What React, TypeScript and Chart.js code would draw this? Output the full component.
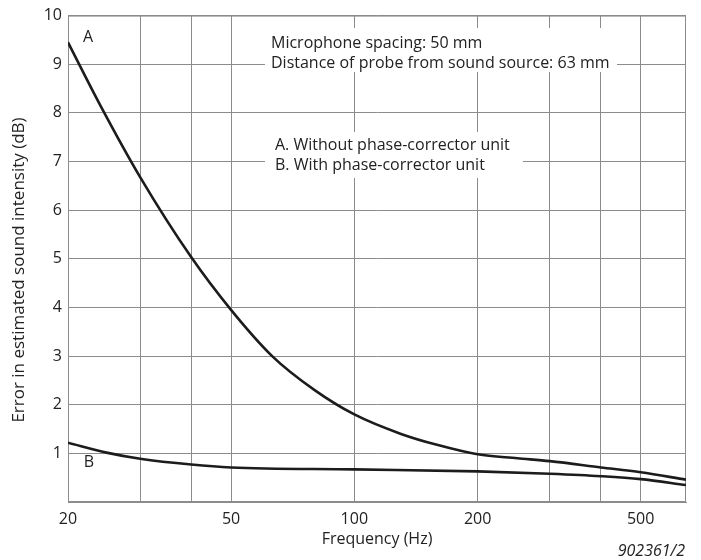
import React, { useEffect, useRef } from "react";
import { Chart, registerables } from "chart.js";

Chart.register(...registerables);

const freqA = [20, 24, 30, 40, 50, 63, 80, 100, 130, 160, 200, 250, 300, 400, 500, 645];
const errorA = [9.45, 8.15, 6.68, 5.03, 3.95, 3.0, 2.3, 1.8, 1.4, 1.17, 0.98, 0.9, 0.84, 0.71, 0.61, 0.46];

const freqB = [20, 25, 30, 40, 50, 100, 200, 300, 400, 500, 645];
const errorB = [1.22, 1.01, 0.89, 0.77, 0.71, 0.67, 0.63, 0.58, 0.53, 0.47, 0.35];

const xGridTicks = [20, 30, 40, 50, 100, 200, 300, 400, 500];
const xLabelTicks = [20, 50, 100, 200, 500];
const yTicks = [0, 1, 2, 3, 4, 5, 6, 7, 8, 9, 10];

const noteLines1 = ["Microphone spacing: 50 mm", "Distance of probe from sound source: 63 mm"];
const noteLines2 = ["A. Without phase-corrector unit", "B. With phase-corrector unit"];
const yTitle = "Error in estimated sound intensity (dB)";
const xTitle = "Frequency (Hz)";
const figureId = "902361/2";

const FONT = "'Open Sans', 'Noto Sans', sans-serif";
const GRID = "#8c8c8c";
const INK = "#1c1c1c";
const TEXT = "#222222";

const overlay = {
  id: "overlay",
  beforeDatasetsDraw(chart: any) {
    const { ctx, chartArea: a } = chart;
    ctx.save();
    ctx.strokeStyle = GRID;
    ctx.lineWidth = 1;
    ctx.strokeRect(a.left + 0.5, a.top + 0.5, a.right - a.left - 1, a.bottom - a.top - 1);

    // white boxes behind notes
    ctx.fillStyle = "#ffffff";
    ctx.fillRect(a.left + 197, 28, 352, 44);
    ctx.fillRect(a.left + 197, 132, 258, 46);

    ctx.fillStyle = TEXT;
    ctx.font = `16px ${FONT}`;
    ctx.textAlign = "left";
    ctx.textBaseline = "middle";
    ctx.fillText(noteLines1[0], a.left + 203, 43);
    ctx.fillText(noteLines1[1], a.left + 203, 63);
    ctx.fillText(noteLines2[0], a.left + 207, 145);
    ctx.fillText(noteLines2[1], a.left + 207, 165);

    ctx.textAlign = "center";
    ctx.fillText("A", a.left + 20, 37);
    ctx.fillText("B", a.left + 21, 462);
    ctx.restore();
  },
  afterDraw(chart: any) {
    const { ctx, chartArea: a } = chart;
    ctx.save();
    ctx.fillStyle = TEXT;
    ctx.font = `italic 16px ${FONT}`;
    ctx.textAlign = "right";
    ctx.textBaseline = "middle";
    ctx.fillText(figureId, a.right - 1, 551);

    ctx.font = `17px ${FONT}`;
    ctx.textAlign = "center";
    ctx.translate(19, 270);
    ctx.rotate(-Math.PI / 2);
    ctx.fillText(yTitle, 0, 0);
    ctx.restore();
  },
};

export default function App() {
  const ref = useRef<HTMLCanvasElement | null>(null);

  useEffect(() => {
    if (!ref.current) return;
    const chart = new Chart(ref.current, {
      type: "line",
      data: {
        datasets: [
          {
            label: "A",
            data: freqA.map((f, i) => ({ x: f, y: errorA[i] })),
            borderColor: INK,
            borderWidth: 2.6,
            pointRadius: 0,
            cubicInterpolationMode: "monotone",
            fill: false,
          },
          {
            label: "B",
            data: freqB.map((f, i) => ({ x: f, y: errorB[i] })),
            borderColor: INK,
            borderWidth: 2.6,
            pointRadius: 0,
            cubicInterpolationMode: "monotone",
            fill: false,
          },
        ],
      },
      options: {
        responsive: false,
        animation: false,
        layout: { padding: { top: 15, right: 15, left: 0, bottom: 0 } },
        plugins: { legend: { display: false }, tooltip: { enabled: false } },
        scales: {
          x: {
            type: "logarithmic",
            min: 20,
            max: 645,
            afterBuildTicks: (scale: any) => {
              scale.ticks = xGridTicks.map((v) => ({ value: v }));
            },
            afterFit: (scale: any) => {
              scale.height = 58;
            },
            ticks: {
              autoSkip: false,
              maxRotation: 0,
              padding: 8,
              color: TEXT,
              font: { family: FONT, size: 16 },
              callback: (v: any) => (xLabelTicks.includes(Number(v)) ? String(v) : ""),
            },
            grid: { color: GRID, lineWidth: 1, drawTicks: false },
            border: { display: true, color: GRID },
            title: {
              display: true,
              text: xTitle,
              color: TEXT,
              font: { family: FONT, size: 16 },
              padding: { top: 0, bottom: 11 },
            },
          },
          y: {
            min: 0,
            max: 10,
            afterBuildTicks: (scale: any) => {
              scale.ticks = yTicks.map((v) => ({ value: v }));
            },
            afterFit: (scale: any) => {
              scale.width = 68;
            },
            ticks: {
              padding: 6,
              color: TEXT,
              font: { family: FONT, size: 16 },
              callback: (v: any) => (Number(v) === 0 ? "" : String(v)),
            },
            grid: { color: GRID, lineWidth: 1, drawTicks: false },
            border: { display: true, color: GRID },
            title: { display: false },
          },
        },
      },
      plugins: [overlay],
    } as any);
    return () => chart.destroy();
  }, []);

  return (
    <div style={{ position: "fixed", left: 0, top: 0, width: 701, height: 560, background: "#fff" }}>
      <canvas ref={ref} width={701} height={560} style={{ width: 701, height: 560, display: "block" }} />
    </div>
  );
}
